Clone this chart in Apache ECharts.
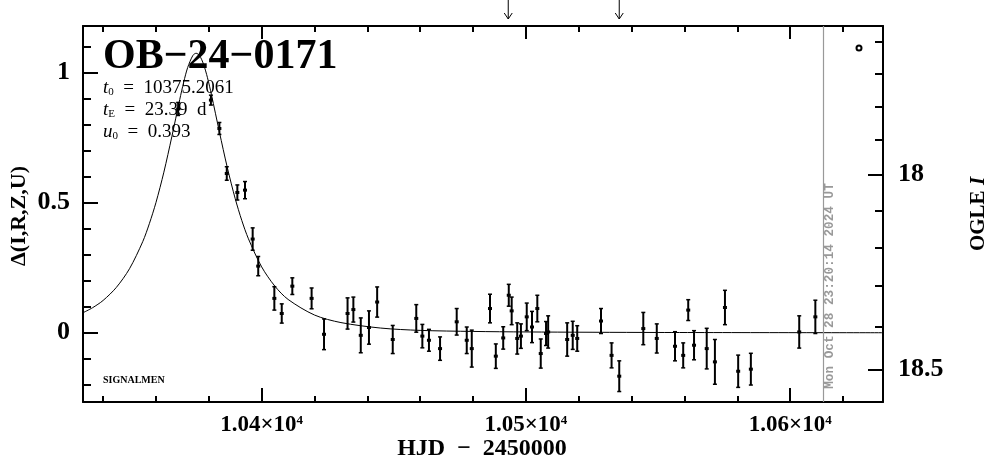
<!DOCTYPE html>
<html><head><meta charset="utf-8">
<script src="https://cdn.jsdelivr.net/npm/echarts@6/dist/echarts.min.js"></script>
<style>html,body{margin:0;padding:0;background:#fff}#c{width:986px;height:459px}</style>
</head><body><div id="c"></div>
<script>
// ---- data ----
const hjd = [10368.4,10380.8,10384.0,10386.8,10390.8,10393.7,10396.6,10398.7,10404.8,10407.6,10411.6,10418.9,10423.6,10432.5,10434.7,10437.5,10440.6,10443.7,10449.6,10458.5,10460.8,10463.3,10467.5,10473.8,10477.6,10479.5,10486.4,10488.6,10491.4,10493.5,10494.6,10496.7,10498.1,10500.3,10502.3,10504.3,10505.6,10507.6,10508.4,10515.6,10517.7,10519.4,10528.4,10532.4,10535.3,10544.4,10549.5,10556.4,10559.5,10561.4,10563.6,10568.4,10571.5,10575.3,10580.3,10585.1,10603.4,10609.5];
const delta = [0.86,0.894,0.785,0.612,0.539,0.548,0.360,0.256,0.132,0.074,0.179,0.132,-0.006,0.074,0.089,-0.010,0.020,0.118,-0.026,0.055,-0.013,-0.029,-0.061,0.042,-0.029,-0.061,0.093,-0.090,-0.020,0.144,0.084,-0.022,-0.013,0.061,0.022,0.093,-0.080,-0.003,0.003,-0.026,-0.010,-0.022,0.045,-0.087,-0.167,0.016,-0.022,-0.052,-0.087,0.087,-0.048,-0.061,-0.112,0.097,-0.148,-0.140,0.003,0.061];
const err = [0.025,0.019,0.023,0.026,0.029,0.033,0.043,0.037,0.045,0.037,0.032,0.040,0.059,0.060,0.048,0.067,0.064,0.058,0.054,0.053,0.045,0.042,0.045,0.051,0.051,0.071,0.055,0.047,0.043,0.042,0.053,0.060,0.047,0.053,0.060,0.051,0.056,0.046,0.062,0.064,0.054,0.049,0.048,0.048,0.059,0.062,0.056,0.056,0.048,0.040,0.056,0.078,0.086,0.066,0.062,0.061,0.062,0.064];

const curveHjd = [10332.4,10336,10340,10345,10350,10355,10357.5,10360,10363,10366,10369,10370.5,10372,10374,10375.2,10376.5,10378,10379.5,10381,10384,10387,10390,10392.5,10395,10400,10405,10410,10420,10430,10445,10460,10480,10500,10550,10636];
const curveDelta = [0.077,0.096,0.124,0.174,0.246,0.350,0.419,0.500,0.617,0.753,0.896,0.963,1.019,1.066,1.074,1.065,1.032,0.980,0.915,0.772,0.635,0.515,0.431,0.361,0.253,0.179,0.128,0.068,0.039,0.018,0.009,0.005,0.003,0.001,0.000];

const xMajorTicks = [10400, 10500, 10600];
const xMinorTicks = [10340,10360,10380,10400,10420,10440,10460,10480,10500,10520,10540,10560,10580,10600,10620];
const yMajorTicks = [0, 0.5, 1];
const yMinorTicks = [-0.2,-0.1,0,0.1,0.2,0.3,0.4,0.5,0.6,0.7,0.8,0.9,1.0,1.1];
const magTickDelta = [1.12, 0.996, 0.870, 0.741, 0.608, 0.470, 0.328, 0.179, 0.023, -0.142];
const magMajorDelta = [0.608, -0.142];
const magMajorLabels = ['18', '18.5'];
const arrowHjd = [10493.3, 10535.3];
const nowHjd = 10612.5;
const nowLabel = 'Mon Oct 28 23:20:14 2024 UT';
const eventName = 'OB\u221224\u22120171';
const paramT0 = '10375.2061';
const paramTE = '23.39';
const paramU0 = '0.393';

const X_MIN = 10332.4, X_MAX = 10635.1, Y_MIN = -0.2662, Y_MAX = 1.1788;
const SERIF = 'Liberation Serif';

const chart = echarts.init(document.getElementById('c'), null, {renderer: 'canvas'});

function xAx(pos, ticks, len, showLine, showLabel) {
  return {
    type: 'value', position: pos, min: X_MIN, max: X_MAX, gridIndex: 0,
    axisLine: {show: showLine, onZero: false, lineStyle: {color: '#000', width: 2}},
    axisTick: {show: true, inside: true, length: len, customValues: ticks, lineStyle: {color: '#000', width: 2}},
    axisLabel: showLabel ? {
      show: true, margin: 12, customValues: ticks,
      formatter: v => '{a|' + (v / 1e4).toFixed(2) + '\u00d710}{b|4}',
      rich: {
        a: {fontFamily: SERIF, fontSize: 23, fontWeight: 'bold', color: '#000', lineHeight: 23},
        b: {fontFamily: SERIF, fontSize: 13, fontWeight: 'bold', color: '#000', verticalAlign: 'top', lineHeight: 13}
      }
    } : {show: false},
    splitLine: {show: false}
  };
}
function yAx(pos, ticks, len, showLine, labelVals, labelFmt) {
  return {
    type: 'value', position: pos, min: Y_MIN, max: Y_MAX, gridIndex: 0,
    axisLine: {show: showLine, onZero: false, lineStyle: {color: '#000', width: 2}},
    axisTick: {show: true, inside: true, length: len, customValues: ticks, lineStyle: {color: '#000', width: 2}},
    axisLabel: labelVals ? {
      show: true, margin: pos === 'left' ? 13 : 15, customValues: labelVals, formatter: labelFmt,
      fontFamily: SERIF, fontSize: 26, fontWeight: 'bold', color: '#000'
    } : {show: false},
    splitLine: {show: false}
  };
}

const option = {
  animation: false,
  backgroundColor: '#fff',
  grid: {left: 83, top: 26, right: 103, bottom: 57, containLabel: false},
  xAxis: [
    xAx('bottom', xMinorTicks, 6, true, false),
    xAx('bottom', xMajorTicks, 14, false, true),
    xAx('top', xMinorTicks, 6, true, false),
    xAx('top', xMajorTicks, 13, false, false)
  ],
  yAxis: [
    yAx('left', yMinorTicks, 8, true, null),
    yAx('left', yMajorTicks, 15, false, yMajorTicks, v => String(Math.round(v * 10) / 10)),
    yAx('right', magTickDelta, 8, true, null),
    yAx('right', magMajorDelta, 15, false, magMajorDelta, v => {
      let best = 0;
      magMajorDelta.forEach((d, i) => { if (Math.abs(d - v) < Math.abs(magMajorDelta[best] - v)) best = i; });
      return magMajorLabels[best];
    })
  ],
  series: [
    {
      type: 'line', xAxisIndex: 0, yAxisIndex: 0, silent: true,
      data: curveHjd.map((x, i) => [x, curveDelta[i]]),
      showSymbol: false, smooth: 0.3, clip: true,
      lineStyle: {color: '#000', width: 1},
      markLine: {
        silent: true, symbol: ['none', 'none'],
        label: {show: false},
        lineStyle: {color: '#999', width: 1.2, type: 'solid'},
        data: [{xAxis: nowHjd}]
      }
    },
    {
      type: 'custom', xAxisIndex: 0, yAxisIndex: 0, silent: true, clip: true,
      data: hjd.map((x, i) => [x, delta[i], err[i]]),
      encode: {x: 0, y: 1},
      renderItem: (params, api) => {
        const x = api.value(0), y = api.value(1), e = api.value(2);
        const t = api.coord([x, y + e]), b = api.coord([x, y - e]), c = api.coord([x, y]);
        return {type: 'group', children: [
          {type: 'line', shape: {x1: t[0], y1: t[1], x2: b[0], y2: b[1]}, style: {stroke: '#000', lineWidth: 2}},
          {type: 'line', shape: {x1: t[0] - 2, y1: t[1], x2: t[0] + 2, y2: t[1]}, style: {stroke: '#000', lineWidth: 1.5}},
          {type: 'line', shape: {x1: b[0] - 2, y1: b[1], x2: b[0] + 2, y2: b[1]}, style: {stroke: '#000', lineWidth: 1.5}},
          {type: 'rect', shape: {x: c[0] - 2, y: c[1] - 1.5, width: 4, height: 3}, style: {fill: '#000'}}
        ]};
      }
    }
  ]
};
chart.setOption(option);

// decorations placed through the axis scales
const gfx = [];
arrowHjd.forEach(v => {
  const px = chart.convertToPixel({xAxisIndex: 0}, v);
  gfx.push({type: 'line', shape: {x1: px, y1: 0, x2: px, y2: 19}, style: {stroke: '#000', lineWidth: 1}});
  gfx.push({type: 'polyline', shape: {points: [[px - 4, 13], [px, 19], [px + 4, 13]]}, style: {stroke: '#000', lineWidth: 1, fill: null}});
});
const nowPx = chart.convertToPixel({xAxisIndex: 0}, nowHjd);
gfx.push({type: 'text', x: nowPx + 7, y: 286, rotation: Math.PI / 2,
  style: {text: nowLabel, fill: '#999', font: 'bold 12.7px "Liberation Mono"', align: 'center', verticalAlign: 'middle'}});
// title block
gfx.push({type: 'text', x: 103, y: 57, style: {text: eventName, fill: '#000', font: 'bold 42px "Liberation Serif"', align: 'left', verticalAlign: 'middle'}});
const paramRich = {
  i: {fontFamily: SERIF, fontStyle: 'italic', fontSize: 19, fill: '#000'},
  s: {fontFamily: SERIF, fontSize: 11, fill: '#000', verticalAlign: 'bottom', lineHeight: 12},
  n: {fontFamily: SERIF, fontSize: 19, fill: '#000'}
};
[['t', '0', '  =  ' + paramT0, 88], ['t', 'E', '  =  ' + paramTE + '  d', 110], ['u', '0', '  =  ' + paramU0, 132]].forEach(r => {
  gfx.push({type: 'text', x: 103, y: r[3], style: {text: '{i|' + r[0] + '}{s|' + r[1] + '}{n|' + r[2] + '}', rich: paramRich, align: 'left', verticalAlign: 'middle'}});
});
gfx.push({type: 'text', x: 103, y: 380, style: {text: 'SIGNALMEN', fill: '#000', font: 'bold 10px "Liberation Serif"', align: 'left', verticalAlign: 'middle'}});
gfx.push({type: 'circle', shape: {cx: 859, cy: 48, r: 2.5}, style: {stroke: '#000', lineWidth: 2, fill: '#fff'}});
// axis titles
gfx.push({type: 'text', x: 482, y: 449, style: {text: 'HJD  \u2212  2450000', fill: '#000', font: 'bold 24px "Liberation Serif"', align: 'center', verticalAlign: 'middle'}});
gfx.push({type: 'text', x: 19, y: 216, rotation: Math.PI / 2, style: {text: '\u0394(I,R,Z,U)', fill: '#000', font: 'bold 22px "Liberation Serif"', align: 'center', verticalAlign: 'middle'}});
gfx.push({type: 'text', x: 979, y: 214, rotation: Math.PI / 2, style: {
  text: '{a|OGLE }{b|I}', align: 'center', verticalAlign: 'middle',
  rich: {a: {fontFamily: SERIF, fontWeight: 'bold', fontSize: 21, fill: '#000'}, b: {fontFamily: SERIF, fontWeight: 'bold', fontStyle: 'italic', fontSize: 21, fill: '#000'}}
}});
chart.setOption({graphic: {elements: gfx}});
</script>
</body></html>
